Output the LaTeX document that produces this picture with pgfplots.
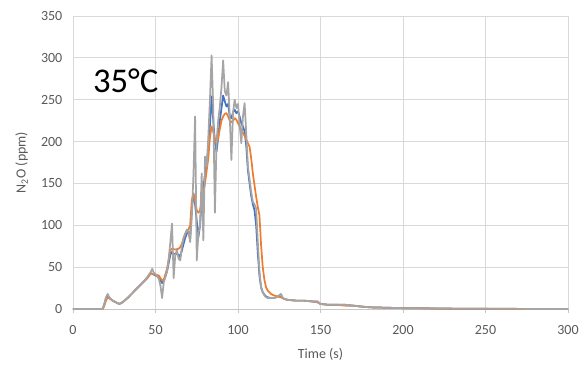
\documentclass[border=0pt]{standalone}
\usepackage{pgfplots}
\pgfplotsset{compat=1.18}
\usepackage{pgfplotstable}
\usepackage{fontspec}
\setmainfont{Carlito}

\definecolor{sBlue}{HTML}{4472C4}
\definecolor{sOrange}{HTML}{ED7D31}
\definecolor{sGray}{HTML}{A5A5A5}
\definecolor{txt}{HTML}{595959}
\definecolor{grd}{HTML}{D9D9D9}

% N2O concentration, run 1
\pgfplotstableread{
t v
0 0
18 0
19 6
20 13
21 16
22 13
24 10
26 8
28 6
30 8
33 13
36 19
39 25
42 31
45 37
47 43
48 42
50 40
52 38
54 31
55 33
57 45
59 65
60 68
61 66
62 66
64 65
65 62
66 70
68 85
69 90
70 92
71 84
72 120
73 138
74 125
75 105
76 86
77 100
78 130
80 160
81 175
82 190
83 220
84 254
85 225
86 200
87 188
88 205
89 225
90 240
91 255
92 248
93 242
94 245
95 230
96 228
97 235
98 238
99 234
100 236
101 230
102 222
103 218
104 212
105 195
106 166
107 150
108 135
109 125
110 118
111 100
112 67
113 40
114 26
115 20
116 17
117 15
118 14
120 13
122 13
124 15
126 15
128 12
130 11
135 10
140 10
145 9
148 9
150 6
155 5
160 5
165 5
170 4
174 3
180 2
190 1.5
200 1
210 1
220 0.6
240 0.3
260 0.2
300 0
}\runA

% N2O concentration, run 2
\pgfplotstableread{
t v
0 0
18 0
19 4
20 10
21 14
22 13
24 10
26 8
28 6
30 8
33 13
36 19
39 25
42 31
45 37
47 42
48 42
50 41
52 40
54 34
55 35
57 48
59 70
60 72
62 71
64 72
65 74
66 78
68 90
70 95
71 100
72 130
73 138
74 128
75 118
76 115
77 118
78 130
80 150
82 180
83 205
84 218
85 212
86 203
87 198
88 204
89 215
90 225
91 230
92 233
93 234
94 230
95 225
96 223
97 225
98 228
99 226
100 222
102 214
104 207
106 198
107 194
108 180
109 162
110 148
111 134
112 122
113 112
114 76
115 50
116 35
117 26
118 22
119 20
120 18
122 16
124 15
126 14
128 12
130 11
135 10
140 10
145 9
148 8
150 6
155 5
160 5
165 4
170 4
175 3
180 2
190 1.5
200 1
210 0.8
218 0.5
230 0.3
260 0.1
300 0
}\runB

% N2O concentration, run 3
\pgfplotstableread{
t v
0 0
18 0
19 6
20 14
21 18
22 14
24 10
26 8
28 6
30 8
33 13
36 19
39 25
42 31
45 38
47 44
48 48
49 43
50 42
52 36
53 28
54 13
55 32
57 45
58 60
59 80
60 102
61 37
62 65
63 70
64 60
65 58
66 75
67 85
68 90
69 95
70 92
71 80
72 110
73 160
74 230
75 58
76 90
77 100
78 162
79 82
80 182
81 170
82 205
83 250
84 303
85 240
86 115
87 200
88 225
89 242
90 265
91 297
92 260
93 255
94 271
95 230
96 178
97 235
98 250
99 240
100 245
101 220
102 198
103 230
104 246
105 210
106 170
107 155
108 140
109 128
110 125
111 120
112 80
113 45
114 25
115 20
116 16
117 14
118 13
120 13
122 13
124 15
126 18
127 14
128 12
130 11
135 10
140 10
145 9
148 9
150 6
155 5
160 5
165 5
170 4
174 3
180 2
190 1.5
200 1
210 1
220 0.6
240 0.3
260 0.2
300 0
}\runC

\begin{document}
\begin{tikzpicture}
\path[use as bounding box] (-54.75pt,-42.75pt) rectangle (384pt,231.75pt);
\begin{axis}[
  scale only axis,
  width=371.25pt, height=219.75pt,
  xmin=0, xmax=300, ymin=0, ymax=350,
  xtick={0,50,...,300}, ytick={0,50,...,350},
  grid=major,
  major grid style={draw=grd, line width=0.6pt},
  axis x line=bottom, axis y line=left,
  x axis line style={-, draw=grd!80!gray, line width=0.7pt},
  y axis line style={draw=none},
  xtick style={draw=grd!80!gray, line width=0.7pt},
  ytick style={draw=none},
  xtick align=outside, major tick length=3pt,
  tick label style={font=\fontsize{10.5}{12}\selectfont, text=txt},
  /pgf/number format/assume math mode=true,
  xticklabel style={yshift=-6pt},
  yticklabel style={xshift=-3pt},
  xlabel={Time (s)},
  ylabel={N\textsubscript{2}O (ppm)},
  label style={font=\fontsize{10.5}{12}\selectfont, text=txt},
  xlabel style={yshift=-3pt},
  ylabel style={yshift=3pt},
  clip=false,
]
\addplot[sBlue, line width=1.3pt, line join=round] table[x=t, y=v] {\runA};
\addplot[sOrange, line width=1.3pt, line join=round] table[x=t, y=v] {\runB};
\addplot[sGray, line width=1.3pt, line join=round] table[x=t, y=v] {\runC};
\node[anchor=base west, inner sep=0pt, font=\fontsize{26}{30}\selectfont] at (axis cs:12,259) {35°C};
\end{axis}
\end{tikzpicture}
\end{document}
